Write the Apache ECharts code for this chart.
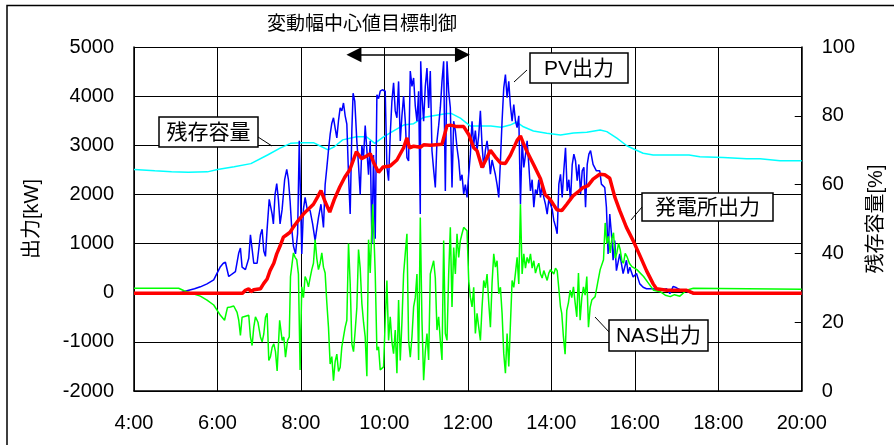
<!DOCTYPE html>
<html><head><meta charset="utf-8">
<script src="https://cdn.jsdelivr.net/npm/echarts@6/dist/echarts.min.js"></script>
<style>html,body{margin:0;padding:0;background:#fff}#c{width:894px;height:445px}</style>
</head><body><div id="c"></div>
<script>
// ---- data (time in hours, value) ----
const xTickLabels = ['4:00','6:00','8:00','10:00','12:00','14:00','16:00','18:00','20:00'];
const leftTicks = [-2000,-1000,0,1000,2000,3000,4000,5000];
const rightTicks = [0,20,40,60,80,100];

const pvOutput = [[4.00,-10],[5.05,-10],[5.15,10],[5.27,40],[5.45,80],[5.59,120],[5.75,180],[5.91,260],[6.07,530],[6.14,600],[6.19,620],[6.27,330],[6.31,300],[6.43,430],[6.51,810],[6.55,910],[6.59,520],[6.67,470],[6.75,700],[6.79,1180],[6.83,1150],[6.87,600],[6.95,600],[7.03,1180],[7.07,1290],[7.11,850],[7.15,740],[7.19,1300],[7.24,1900],[7.27,1940],[7.31,1600],[7.34,1400],[7.38,2000],[7.42,2220],[7.46,1900],[7.50,1400],[7.55,1700],[7.61,2300],[7.66,2510],[7.70,2300],[7.74,1870],[7.78,1300],[7.82,950],[7.87,790],[7.92,1200],[7.96,3090],[7.99,3100],[8.02,790],[8.06,1700],[8.10,1940],[8.15,1700],[8.22,1670],[8.28,1400],[8.34,1060],[8.38,1300],[8.42,1530],[8.48,1800],[8.54,1330],[8.58,2200],[8.62,2540],[8.66,2900],[8.70,3220],[8.74,3450],[8.78,3560],[8.82,3350],[8.86,3150],[8.90,3500],[8.94,3760],[8.98,3700],[9.02,3860],[9.06,3600],[9.10,3430],[9.14,2400],[9.18,1600],[9.22,3300],[9.25,4060],[9.29,3900],[9.34,3080],[9.38,2600],[9.42,2000],[9.46,3000],[9.50,2750],[9.54,3400],[9.58,3430],[9.62,2400],[9.66,3090],[9.70,990],[9.74,2800],[9.78,1100],[9.82,4030],[9.86,3950],[9.90,4100],[9.95,4130],[10.02,4100],[10.06,2550],[10.10,2280],[10.14,3220],[10.18,3900],[10.22,4270],[10.26,3700],[10.30,3560],[10.34,4300],[10.38,3090],[10.42,3600],[10.46,4000],[10.50,3500],[10.54,2750],[10.58,2680],[10.62,4510],[10.66,4200],[10.70,4370],[10.74,3800],[10.78,3490],[10.82,4100],[10.86,1600],[10.87,4710],[10.90,4000],[10.94,3490],[10.98,4200],[11.02,4570],[11.06,3760],[11.10,4510],[11.14,2890],[11.18,2500],[11.22,2140],[11.26,3090],[11.30,3400],[11.34,3760],[11.38,4300],[11.42,4710],[11.46,2070],[11.50,4710],[11.54,4100],[11.58,3760],[11.62,2140],[11.66,3490],[11.70,3300],[11.74,2950],[11.78,2700],[11.82,2280],[11.86,2400],[11.90,2010],[11.94,2200],[11.98,1940],[12.02,2410],[12.06,2820],[12.10,3490],[12.14,3000],[12.18,3300],[12.22,2890],[12.26,3200],[12.30,3700],[12.34,3000],[12.38,2550],[12.42,2900],[12.46,3090],[12.50,2800],[12.54,2410],[12.58,2700],[12.62,2550],[12.66,2400],[12.70,2200],[12.74,1940],[12.78,2680],[12.82,3500],[12.86,4170],[12.90,4440],[12.94,3970],[12.98,4300],[13.02,3800],[13.06,3490],[13.10,3830],[13.14,3500],[13.18,3360],[13.22,3600],[13.26,1800],[13.30,3090],[13.34,2550],[13.38,2800],[13.42,3090],[13.46,2600],[13.50,2070],[13.54,2300],[13.58,1740],[13.62,2100],[13.66,2010],[13.70,2300],[13.74,1940],[13.78,2200],[13.82,1940],[13.86,1800],[13.90,1600],[13.94,1900],[13.98,1870],[14.02,1700],[14.06,1470],[14.10,1350],[14.14,1200],[14.18,2210],[14.22,2410],[14.26,1940],[14.30,2500],[14.34,2950],[14.38,2070],[14.42,2300],[14.46,1870],[14.50,2600],[14.54,2820],[14.58,2680],[14.62,2280],[14.66,2610],[14.70,2010],[14.74,2480],[14.78,2550],[14.82,1740],[14.86,2610],[14.90,2820],[14.94,2890],[15.00,2610],[15.08,2480],[15.16,2480],[15.20,2210],[15.28,2140],[15.32,1740],[15.36,790],[15.40,1600],[15.44,1200],[15.48,660],[15.52,1060],[15.56,450],[15.64,790],[15.72,390],[15.80,660],[15.84,390],[15.88,520],[15.96,320],[16.04,390],[16.12,180],[16.20,110],[16.28,80],[16.44,80],[16.60,50],[16.76,80],[16.84,-20],[16.92,130],[17.00,100],[17.08,60],[17.24,30],[17.40,-20],[20.00,-20]];

const nasOutput = [[4.00,90],[5.07,90],[5.20,40],[5.27,20],[5.59,-70],[5.75,-150],[5.91,-250],[6.07,-460],[6.17,-560],[6.24,-300],[6.31,-290],[6.39,-270],[6.47,-400],[6.51,-560],[6.55,-870],[6.59,-500],[6.63,-460],[6.75,-460],[6.79,-900],[6.83,-1075],[6.87,-700],[6.91,-490],[6.97,-600],[7.03,-900],[7.07,-1000],[7.11,-840],[7.15,-500],[7.19,-420],[7.23,-1380],[7.27,-1300],[7.31,-1110],[7.35,-1040],[7.39,-1200],[7.43,-1590],[7.46,-1570],[7.49,-560],[7.55,-970],[7.59,-900],[7.63,-1310],[7.68,-970],[7.72,-900],[7.75,330],[7.82,810],[7.86,720],[7.90,670],[7.94,380],[7.98,-1570],[8.02,120],[8.06,-100],[8.10,330],[8.14,250],[8.18,120],[8.22,300],[8.26,470],[8.30,600],[8.34,1080],[8.38,700],[8.42,470],[8.46,600],[8.50,810],[8.54,520],[8.58,400],[8.62,-200],[8.66,-700],[8.70,-1450],[8.74,-1300],[8.78,-1790],[8.82,-1400],[8.86,-1250],[8.90,-1600],[8.94,-1520],[8.98,-1100],[9.02,-900],[9.06,-700],[9.10,-560],[9.14,1000],[9.18,200],[9.22,-1040],[9.26,-1200],[9.30,-770],[9.34,-300],[9.38,880],[9.42,500],[9.46,-220],[9.50,-600],[9.54,-900],[9.58,-1700],[9.62,1080],[9.66,400],[9.72,1800],[9.76,900],[9.78,400],[9.82,-1170],[9.86,-1100],[9.90,-1570],[9.98,-1510],[10.02,-560],[10.06,250],[10.10,-970],[10.14,-490],[10.18,-1000],[10.22,-1240],[10.26,-760],[10.30,-1640],[10.34,-150],[10.38,-1380],[10.42,-600],[10.46,380],[10.50,800],[10.54,1200],[10.58,-970],[10.62,-1310],[10.66,-900],[10.70,-290],[10.74,-100],[10.78,380],[10.82,-1370],[10.86,1530],[10.90,-560],[10.94,-1780],[10.98,-1200],[11.02,-830],[11.06,-1370],[11.10,380],[11.14,520],[11.18,650],[11.22,300],[11.26,-760],[11.30,-490],[11.34,-970],[11.38,-1370],[11.42,1060],[11.46,-830],[11.50,-970],[11.54,380],[11.58,1330],[11.62,-290],[11.66,920],[11.70,380],[11.74,1200],[11.78,720],[11.82,1060],[11.86,1200],[11.90,1330],[11.94,1300],[11.98,1260],[12.02,250],[12.06,-90],[12.10,-290],[12.14,110],[12.18,-830],[12.22,-420],[12.26,-700],[12.30,-970],[12.34,-290],[12.38,250],[12.42,100],[12.46,380],[12.50,-200],[12.54,-700],[12.58,200],[12.62,790],[12.66,520],[12.70,650],[12.74,-20],[12.78,110],[12.82,-420],[12.86,-1240],[12.90,-1640],[12.94,-830],[12.98,-1500],[13.02,-630],[13.06,250],[13.10,110],[13.14,400],[13.18,720],[13.22,180],[13.26,1800],[13.30,380],[13.34,790],[13.38,500],[13.42,720],[13.46,600],[13.50,790],[13.54,500],[13.58,650],[13.62,400],[13.66,520],[13.70,600],[13.74,380],[13.78,300],[13.82,450],[13.86,350],[13.90,250],[13.94,400],[13.98,470],[14.06,380],[14.10,500],[14.14,450],[14.18,430],[14.22,-290],[14.25,-420],[14.29,-900],[14.33,-1250],[14.37,-360],[14.41,-200],[14.45,50],[14.49,-100],[14.53,120],[14.57,-200],[14.61,-490],[14.65,400],[14.69,-560],[14.73,-100],[14.77,120],[14.81,-50],[14.85,330],[14.89,-700],[14.93,-300],[14.97,-150],[15.05,-80],[15.11,200],[15.17,470],[15.25,670],[15.29,1420],[15.33,1000],[15.37,1150],[15.41,810],[15.45,1100],[15.49,1220],[15.53,700],[15.57,810],[15.61,1000],[15.65,880],[15.69,650],[15.73,600],[15.77,800],[15.81,740],[15.87,600],[15.93,530],[16.05,470],[16.21,330],[16.33,190],[16.45,50],[16.61,20],[16.73,-50],[16.85,-80],[16.95,-40],[17.08,-70],[17.24,50],[17.40,90],[20.00,70]];

const plantOutput = [[4.00,-10],[6.60,-10],[6.67,50],[6.75,80],[6.80,20],[6.87,60],[7.03,80],[7.11,190],[7.19,280],[7.26,450],[7.35,600],[7.42,790],[7.50,950],[7.58,1130],[7.66,1180],[7.74,1230],[7.82,1340],[7.90,1430],[8.06,1600],[8.14,1670],[8.30,1800],[8.40,1950],[8.48,2080],[8.58,1850],[8.69,1640],[8.80,1900],[8.93,2150],[9.05,2350],[9.17,2500],[9.33,2870],[9.45,2730],[9.57,2780],[9.66,2830],[9.74,2650],[9.86,2450],[9.97,2560],[10.14,2580],[10.30,2700],[10.46,2950],[10.54,3150],[10.60,2950],[10.70,2980],[10.86,2960],[10.94,3010],[11.10,3000],[11.38,3020],[11.50,3400],[11.58,3410],[11.74,3380],[11.90,3380],[12.02,3220],[12.14,2950],[12.22,2890],[12.34,2550],[12.46,2750],[12.54,2900],[12.66,2760],[12.78,2640],[12.90,2630],[13.02,2800],[13.18,3100],[13.26,3190],[13.34,3020],[13.42,2870],[13.58,2600],[13.74,2320],[13.85,2000],[13.98,1890],[14.13,1690],[14.25,1670],[14.37,1800],[14.52,1970],[14.64,2050],[14.76,2140],[14.88,2180],[15.00,2310],[15.16,2410],[15.28,2400],[15.40,2330],[15.52,1950],[15.64,1670],[15.80,1330],[15.96,1060],[16.12,760],[16.28,450],[16.44,180],[16.52,80],[16.76,50],[17.24,50],[17.40,-10],[20.00,-10]];

const remainingCapacity = [[4.0,64.4],[4.5,64.0],[4.9,63.7],[5.3,63.6],[5.76,63.7],[6.0,64.4],[6.4,65.2],[6.8,66.1],[7.2,68.6],[7.5,70.6],[7.75,72.0],[8.0,72.2],[8.3,72.2],[8.45,71.3],[8.65,70.1],[8.8,71.0],[9.0,73.0],[9.33,73.9],[9.57,73.9],[9.77,72.0],[9.97,73.8],[10.2,75.5],[10.46,77.3],[10.7,77.7],[10.93,79.5],[11.17,80.0],[11.5,80.7],[11.6,80.7],[11.82,79.3],[12.06,77.0],[12.3,77.0],[12.55,77.0],[12.8,76.7],[13.01,77.3],[13.17,78.2],[13.33,76.8],[13.57,75.6],[13.89,74.9],[14.22,74.4],[14.53,75.0],[14.85,75.2],[15.17,75.9],[15.33,75.4],[15.57,73.5],[15.81,71.3],[16.0,70.2],[16.2,69.1],[16.44,68.6],[17.3,68.6],[17.56,68.1],[18.12,67.9],[18.68,67.5],[19.0,67.5],[19.48,66.9],[20.0,66.9]];

// annotation: control window arrow (hours) and its level (kW)
const controlWindow = [9.27, 11.87];
const controlLevel = 4840;

// ---- chart ----
const FONT = '"Liberation Sans","Noto Sans CJK JP",sans-serif';
const chart = echarts.init(document.getElementById('c'));

function box(x, y, w, h, text) {
  return [
    {type:'rect', shape:{x:x, y:y, width:w, height:h}, style:{fill:'#fff', stroke:'#000', lineWidth:1.5}, z:200},
    {type:'text', x:x + w/2, y:y + h/2 + 1, style:{text:text, font:'21px ' + FONT, fill:'#000', align:'center', verticalAlign:'middle', textAlign:'center', textVerticalAlign:'middle'}, z:201}
  ];
}
function leader(x1, y1, x2, y2) {
  return {type:'line', shape:{x1:x1, y1:y1, x2:x2, y2:y2}, style:{stroke:'#000', lineWidth:1}, z:199};
}
const GRID = {show:true, lineStyle:{color:'#000', width:1}};

const option = {
  animation: false,
  backgroundColor: '#fff',
  grid: {left:134, right:92, top:47, bottom:54, containLabel:false},
  xAxis: {
    type:'value', min:4, max:20, interval:2,
    axisLine:{show:true, onZero:false, lineStyle:{color:'#000', width:1.5}},
    axisTick:{show:false},
    axisLabel:{color:'#000', fontFamily:FONT, fontSize:20, margin:22,
      formatter: v => xTickLabels[Math.round((v-4)/2)]},
    splitLine:GRID
  },
  yAxis: [
    {
      type:'value', min:leftTicks[0], max:leftTicks[leftTicks.length-1], interval:1000, position:'left',
      name:'出力[kW]', nameLocation:'middle', nameRotate:90, nameGap:92,
      nameTextStyle:{color:'#000', fontFamily:FONT, fontSize:20},
      axisLine:{show:true, onZero:false, lineStyle:{color:'#000', width:1.5}},
      axisTick:{show:false},
      axisLabel:{color:'#000', fontFamily:FONT, fontSize:20, margin:20, formatter: v => String(v)},
      splitLine:GRID
    },
    {
      type:'value', min:rightTicks[0], max:rightTicks[rightTicks.length-1], interval:20, position:'right',
      name:'残存容量[%]', nameLocation:'middle', nameRotate:90, nameGap:62,
      nameTextStyle:{color:'#000', fontFamily:FONT, fontSize:20},
      axisLine:{show:true, onZero:false, lineStyle:{color:'#000', width:1.5}},
      axisTick:{show:true, inside:true, length:7, lineStyle:{color:'#000', width:1}},
      axisLabel:{color:'#000', fontFamily:FONT, fontSize:20, margin:20, formatter: v => String(v)},
      splitLine:{show:false}
    }
  ],
  series: [
    {name:'残存容量', type:'line', yAxisIndex:1, data:remainingCapacity, showSymbol:false,
      lineStyle:{color:'#00ffff', width:1.5}, z:2},
    {name:'PV出力', type:'line', yAxisIndex:0, data:pvOutput, showSymbol:false,
      lineStyle:{color:'#0000ff', width:1.5}, z:3,
      markLine:{silent:true, symbol:['triangle','triangle'], symbolSize:[15,15],
        lineStyle:{color:'#000', width:1.5, type:'solid'}, label:{show:false},
        data:[[{coord:[controlWindow[0], controlLevel]}, {coord:[controlWindow[1], controlLevel]}]]}},
    {name:'NAS出力', type:'line', yAxisIndex:0, data:nasOutput, showSymbol:false,
      lineStyle:{color:'#00ff00', width:1.5}, z:4},
    {name:'発電所出力', type:'line', yAxisIndex:0, data:plantOutput, showSymbol:false,
      lineStyle:{color:'#ff0000', width:3.5}, z:5}
  ],
  graphic: {elements: [
    {type:'rect', shape:{x:7, y:5.5, width:1000, height:1000}, style:{fill:'none', stroke:'#000', lineWidth:1.5}, z:0, silent:true},
    {type:'text', x:362, y:25, style:{text:'変動幅中心値目標制御', font:'19px ' + FONT, fill:'#000', align:'center', verticalAlign:'middle', textAlign:'center', textVerticalAlign:'middle'}, z:201},
    leader(258,137,272,146), ...box(159,117,99,30,'残存容量'),
    leader(514,82,527,70), ...box(530,53,98,30,'PV出力'),
    leader(631,220,642,207), ...box(642,193,131,28,'発電所出力'),
    leader(595,317,610,333), ...box(609,320,99,31,'NAS出力')
  ]}
};
chart.setOption(option);
</script></body></html>
